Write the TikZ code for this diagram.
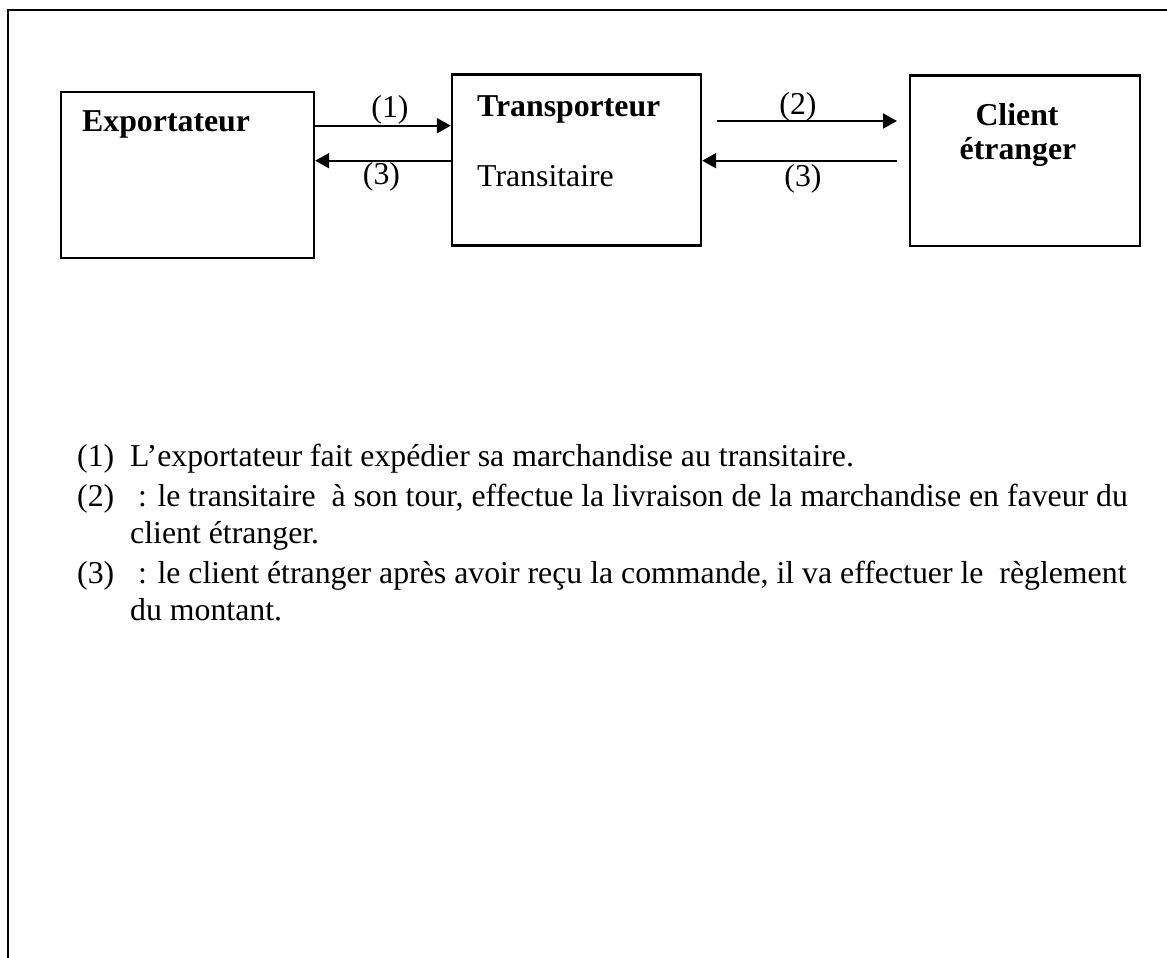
\documentclass[tikz,border=0pt]{standalone}
\usepackage{fontspec}
\setmainfont{Liberation Serif}
\usetikzlibrary{arrows.meta}
\begin{document}
\begin{tikzpicture}[x=1pt,y=-1pt,
  every node/.style={font=\fontsize{31.8}{38}\selectfont, inner sep=0pt, text=black},
  actor/.style={draw, line width=2.4pt},
  flow/.style={line width=2pt, -{Triangle[length=14pt,width=15pt]}},
  lefttext/.style={anchor=base west},
  midtext/.style={anchor=base},
  title/.style={anchor=base west, font=\fontsize{31.8}{38}\selectfont\bfseries}
]
\useasboundingbox (0,0) rectangle (1167,958);

% page frame (left and top edges)
\draw[line width=2.6pt] (8,958) -- (8,10) -- (1167,10);

% the three parties
\node[actor, minimum width=253pt, minimum height=166pt] (exp) at (187.5,175) {};
\node[actor, minimum width=249pt, minimum height=171pt] (tra) at (576.5,160) {};
\node[actor, minimum width=230pt, minimum height=170pt] (cli) at (1025,160.7) {};

\node[title] (expT) at (82,131.7) {Exportateur};
\node[title] (traT) at (477,116) {Transporteur};
\node[lefttext] (traS) at (477,186) {Transitaire};
\node[midtext, font=\fontsize{31.8}{38}\selectfont\bfseries] (cliA) at (1017,125) {Client};
\node[midtext, font=\fontsize{31.8}{38}\selectfont\bfseries] (cliB) at (1018,159) {étranger};

% flow levels
\coordinate (y1) at (0,125.7);
\coordinate (y3) at (0,160.7);
\coordinate (s2) at (717,121);
\coordinate (e2) at (897,121);
\coordinate (s3) at (897,160.7);

% flows between the parties
\draw[flow] (exp.east |- y1) -- (tra.west |- y1);
\draw[flow] (tra.west |- y3) -- (exp.east |- y3);
\draw[flow] (s2) -- (e2);
\draw[flow] (s3) -- (tra.east |- y3);

% flow labels
\node[midtext] (l1) at (390,117) {(1)};
\node[midtext] (l3a) at (381.5,184) {(3)};
\node[midtext] (l2) at (798,114) {(2)};
\node[midtext] (l3b) at (803,186) {(3)};

% legend
\node[lefttext] (n1) at (77,466) {(1)};
\node[lefttext] (t1) at (130,466) {L’exportateur fait expédier sa marchandise au transitaire.};
\node[lefttext] (n2) at (77,506) {(2)};
\node[lefttext] (t2) at (130,506) {\ : le transitaire\ \ à son tour, effectue la livraison de la marchandise en faveur du};
\node[lefttext] (t2b) at (130,543) {client étranger.};
\node[lefttext] (n3) at (77,583) {(3)};
\node[lefttext] (t3) at (130,583) {\ : le client étranger après avoir reçu la commande, il va effectuer le\ \ règlement};
\node[lefttext] (t3b) at (130,620) {du montant.};
\end{tikzpicture}
\end{document}
